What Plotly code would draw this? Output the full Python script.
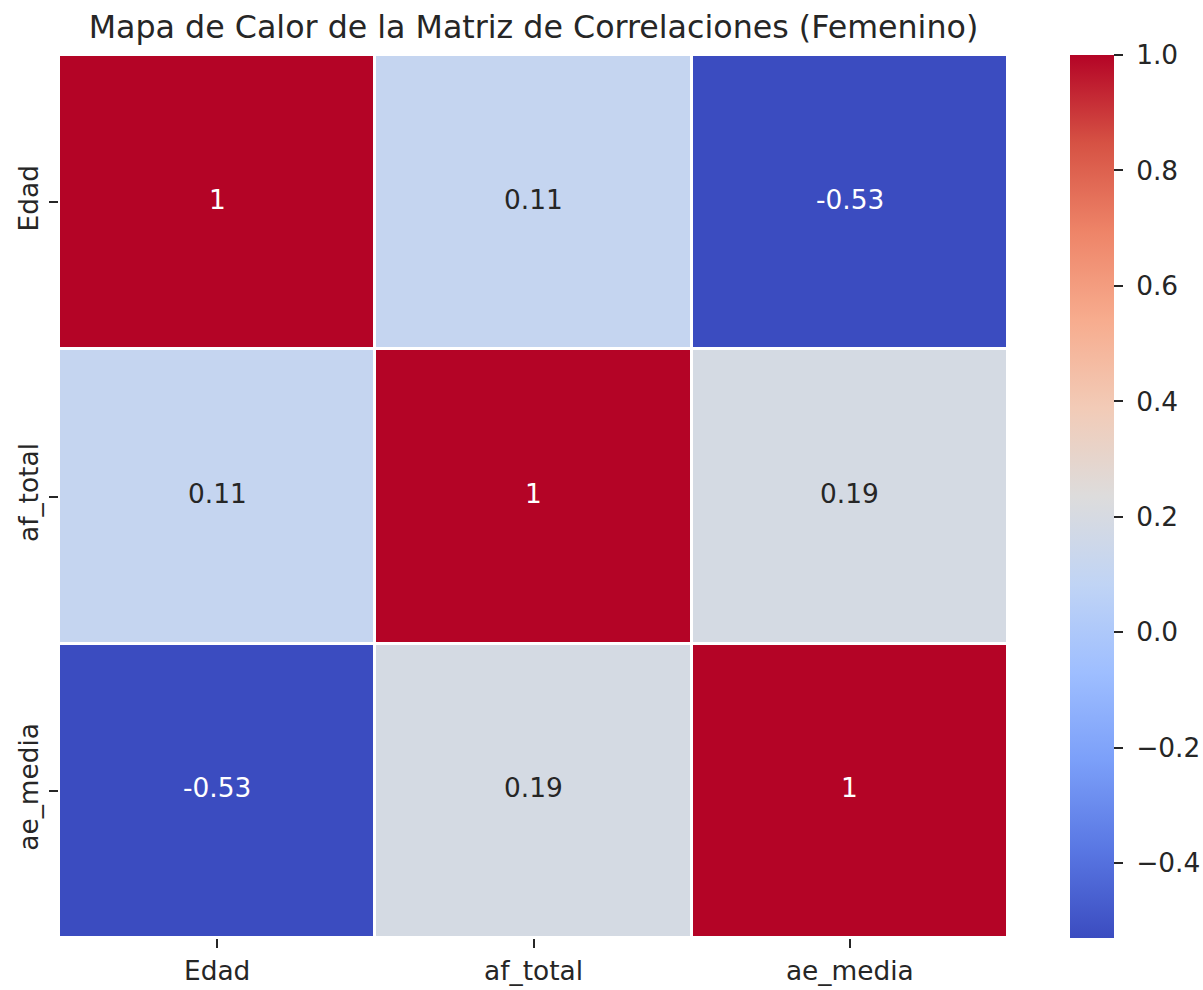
import plotly.graph_objects as go

# Correlation matrix (female group)
variables = ["Edad", "af_total", "ae_media"]
corr_edad = [1.0, 0.11, -0.53]
corr_af_total = [0.11, 1.0, 0.19]
corr_ae_media = [-0.53, 0.19, 1.0]
cbar_ticks = [-0.4, -0.2, 0.0, 0.2, 0.4, 0.6, 0.8, 1.0]

z = [corr_edad, corr_af_total, corr_ae_media]
zmin = min(min(r) for r in z)
zmax = max(max(r) for r in z)

# matplotlib "coolwarm" sampled at 11 stops
coolwarm = [
    [0.0, "#3b4cc0"], [0.1, "#5977e3"], [0.2, "#7b9ff9"], [0.3, "#9ebeff"],
    [0.4, "#c0d4f5"], [0.5, "#dddcdc"], [0.6, "#f2cbb7"], [0.7, "#f7ac8e"],
    [0.8, "#ee8468"], [0.9, "#d65244"], [1.0, "#b40426"],
]

FONT = "DejaVu Sans"
TXT = "#262626"
TICK_SIZE = 26.4
TITLE_SIZE = 31.7


def fmt(v):
    return f"{v:.2g}"


def text_color(v):
    # dark cells at both ends of the scale get white text
    t = (v - zmin) / (zmax - zmin)
    return "white" if (t < 0.2 or t > 0.85) else TXT


# colorbar labels with a unicode minus and a little extra padding
cbar_text = ["\u00a0" + f"{t:.1f}".replace("-", "\u2212") for t in cbar_ticks]

fig = go.Figure(
    go.Heatmap(
        z=z,
        x=variables,
        y=variables,
        zmin=zmin,
        zmax=zmax,
        colorscale=coolwarm,
        xgap=3,
        ygap=3,
        hoverongaps=False,
        colorbar=dict(
            x=(1070 - 59) / 949,
            xanchor="left",
            xpad=0,
            y=0.5,
            yanchor="middle",
            ypad=0,
            len=1.0,
            lenmode="fraction",
            thickness=44,
            outlinewidth=0,
            tickmode="array",
            tickvals=cbar_ticks,
            ticktext=cbar_text,
            ticks="outside",
            ticklen=9,
            tickwidth=1.5,
            tickcolor=TXT,
            tickfont=dict(family=FONT, size=TICK_SIZE, color=TXT),
        ),
    )
)

annotations = []
for i, row_name in enumerate(variables):
    for j, col_name in enumerate(variables):
        v = z[i][j]
        annotations.append(
            dict(
                x=col_name,
                y=row_name,
                text=fmt(v),
                showarrow=False,
                yshift=3,
                font=dict(family=FONT, size=TICK_SIZE, color=text_color(v)),
            )
        )

fig.update_layout(
    width=1203,
    height=990,
    margin=dict(l=59, r=195, t=55, b=52, autoexpand=False),
    paper_bgcolor="white",
    plot_bgcolor="white",
    annotations=annotations,
    title=dict(
        text="Mapa de Calor de la Matriz de Correlaciones (Femenino)",
        x=(59 + 1008) / 2 / 1203,
        xanchor="center",
        y=1 - 27 / 990,
        yanchor="middle",
        font=dict(family=FONT, size=TITLE_SIZE, color=TXT),
    ),
    xaxis=dict(
        automargin=False,
        showgrid=False,
        zeroline=False,
        ticks="outside",
        ticklen=9,
        tickwidth=1.5,
        tickcolor=TXT,
        tickfont=dict(family=FONT, size=TICK_SIZE, color=TXT),
    ),
    yaxis=dict(
        automargin=False,
        autorange="reversed",
        showgrid=False,
        zeroline=False,
        ticks="outside",
        ticklen=9,
        tickwidth=1.5,
        tickcolor=TXT,
        tickangle=-90,
        tickfont=dict(family=FONT, size=TICK_SIZE, color=TXT),
    ),
)

fig.write_html("out.html")
